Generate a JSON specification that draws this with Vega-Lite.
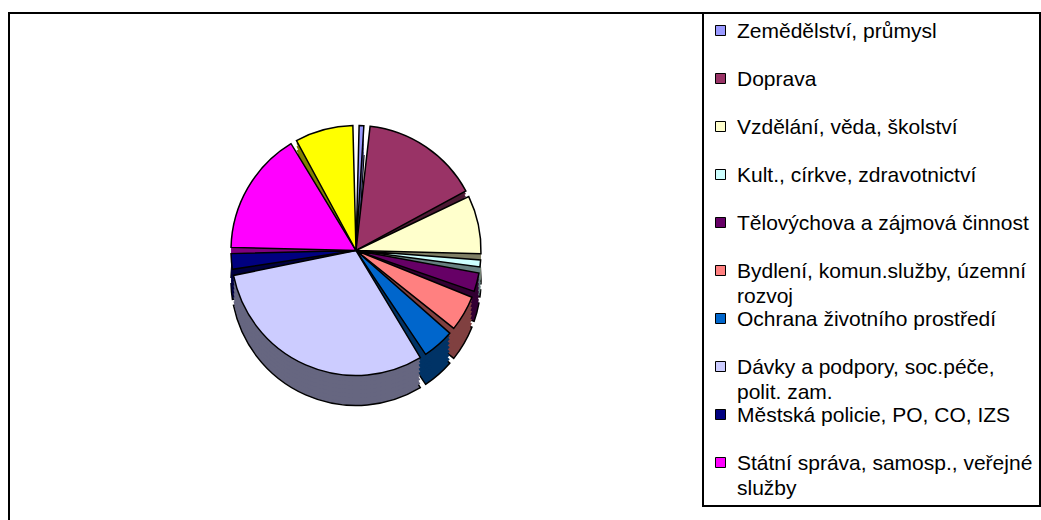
{
  "$schema": "https://vega.github.io/schema/vega-lite/v6.json",
  "width": 694,
  "height": 507,
  "padding": {"left": 9, "top": 12, "right": 0, "bottom": 0},
  "background": "white",
  "view": {"stroke": "black", "strokeWidth": 2, "strokeDash": [694, 1201, 512, 10]},
  "data": {
    "values": [
      {"k": 1, "cat": "Zemědělství, průmysl", "v": 1.4},
      {"k": 2, "cat": "Doprava", "v": 16.1},
      {"k": 3, "cat": "Vzdělání, věda, školství", "v": 8.3},
      {"k": 4, "cat": "Kult., církve, zdravotnictví", "v": 1.7},
      {"k": 5, "cat": "Tělovýchova a zájmová činnost", "v": 3.2},
      {"k": 6, "cat": "Bydlení, komun.služby, územní rozvoj", "v": 5.4},
      {"k": 7, "cat": "Ochrana životního prostředí", "v": 4.9},
      {"k": 8, "cat": "Dávky a podpory, soc.péče, polit. zam.", "v": 31.2},
      {"k": 9, "cat": "Městská policie, PO, CO, IZS", "v": 2.8},
      {"k": 10, "cat": "Státní správa, samosp., veřejné služby", "v": 16.7},
      {"k": 11, "cat": "Ostatní", "v": 8.3}
    ]
  },
  "encoding": {
    "theta": {"field": "v", "type": "quantitative", "stack": true},
    "order": {"field": "k", "type": "quantitative"}
  },
  "layer": [
    {
      "mark": {"type": "arc", "outerRadius": 125, "padAngle": 0.05, "yOffset": 14, "stroke": "black", "strokeWidth": 1.5},
      "encoding": {
        "fill": {
          "field": "cat", "type": "nominal", "legend": null,
          "scale": {
            "domain": ["Ostatní", "Státní správa, samosp., veřejné služby", "Městská policie, PO, CO, IZS", "Dávky a podpory, soc.péče, polit. zam.", "Ochrana životního prostředí", "Bydlení, komun.služby, územní rozvoj", "Tělovýchova a zájmová činnost", "Kult., církve, zdravotnictví", "Vzdělání, věda, školství", "Doprava", "Zemědělství, průmysl"],
            "range": ["#808000", "#800080", "#000040", "#666680", "#003366", "#804040", "#330033", "#668080", "#808066", "#4C1933", "#4C4C80"]
          }
        }
      }
    },
    {"mark": {"type": "arc", "outerRadius": 125, "padAngle": 0.05, "yOffset": 10}, "encoding": {"fill": {"field": "cat", "type": "nominal", "legend": null}}},
    {"mark": {"type": "arc", "outerRadius": 125, "padAngle": 0.05, "yOffset": 6}, "encoding": {"fill": {"field": "cat", "type": "nominal", "legend": null}}},
    {"mark": {"type": "arc", "outerRadius": 125, "padAngle": 0.05, "yOffset": 2}, "encoding": {"fill": {"field": "cat", "type": "nominal", "legend": null}}},
    {"mark": {"type": "arc", "outerRadius": 125, "padAngle": 0.05, "yOffset": -2}, "encoding": {"fill": {"field": "cat", "type": "nominal", "legend": null}}},
    {"mark": {"type": "arc", "outerRadius": 125, "padAngle": 0.05, "yOffset": -6}, "encoding": {"fill": {"field": "cat", "type": "nominal", "legend": null}}},
    {"mark": {"type": "arc", "outerRadius": 125, "padAngle": 0.05, "yOffset": -10}, "encoding": {"fill": {"field": "cat", "type": "nominal", "legend": null}}},
    {"mark": {"type": "arc", "outerRadius": 125, "padAngle": 0.05, "yOffset": -13}, "encoding": {"fill": {"field": "cat", "type": "nominal", "legend": null}}},
    {
      "mark": {"type": "arc", "outerRadius": 125, "padAngle": 0.05, "yOffset": -16, "stroke": "black", "strokeWidth": 1.5},
      "encoding": {
        "color": {
          "field": "cat", "type": "nominal",
          "scale": {
            "domain": ["Zemědělství, průmysl", "Doprava", "Vzdělání, věda, školství", "Kult., církve, zdravotnictví", "Tělovýchova a zájmová činnost", "Bydlení, komun.služby, územní rozvoj", "Ochrana životního prostředí", "Dávky a podpory, soc.péče, polit. zam.", "Městská policie, PO, CO, IZS", "Státní správa, samosp., veřejné služby", "Ostatní"],
            "range": ["#9999FF", "#993366", "#FFFFCC", "#CCFFFF", "#660066", "#FF8080", "#0066CC", "#CCCCFF", "#000080", "#FF00FF", "#FFFF00"]
          },
          "legend": {
            "title": null,
            "orient": "right",
            "offset": 0,
            "padding": 7,
            "strokeColor": "black",
            "symbolType": "square",
            "symbolSize": 100,
            "symbolStrokeColor": "black",
            "symbolStrokeWidth": 1,
            "symbolOpacity": 1,
            "labelFont": "Liberation Sans",
            "labelFontSize": 21,
            "labelColor": "black",
            "labelLimit": 400,
            "labelOffset": 6,
            "rowPadding": 1,
            "gridAlign": "all",
            "labelBaseline": "alphabetic",
            "values": ["Zemědělství, průmysl", "Doprava", "Vzdělání, věda, školství", "Kult., církve, zdravotnictví", "Tělovýchova a zájmová činnost", "Bydlení, komun.služby, územní rozvoj", "Ochrana životního prostředí", "Dávky a podpory, soc.péče, polit. zam.", "Městská policie, PO, CO, IZS", "Státní správa, samosp., veřejné služby"],
            "labelExpr": "datum.label == 'Bydlení, komun.služby, územní rozvoj' ? ['Bydlení, komun.služby, územní', 'rozvoj'] : datum.label == 'Dávky a podpory, soc.péče, polit. zam.' ? ['Dávky a podpory, soc.péče,', 'polit. zam.'] : datum.label == 'Státní správa, samosp., veřejné služby' ? ['Státní správa, samosp., veřejné', 'služby'] : datum.label",
            "encode": {
              "legend": {"update": {"strokeWidth": {"value": 2}}},
              "labels": {"update": {"dy": {"value": 7}, "lineHeight": {"value": 25}}}
            }
          }
        }
      }
    }
  ]
}
